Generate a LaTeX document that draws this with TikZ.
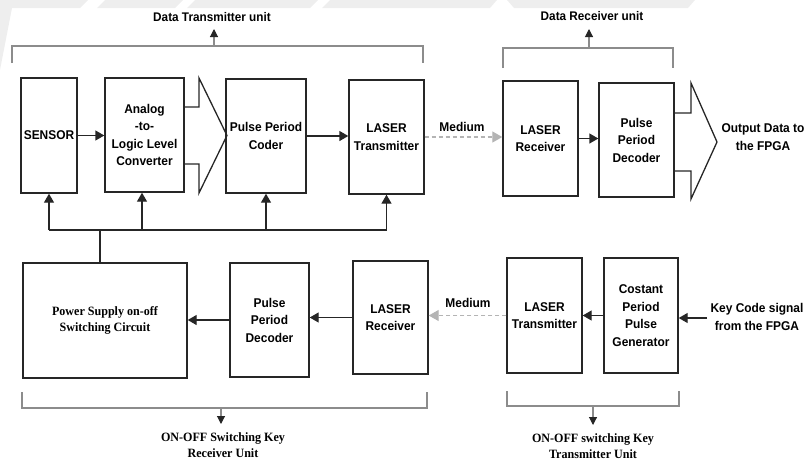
\documentclass[tikz,border=0pt]{standalone}
\usepackage{fontspec}
\setmainfont{Liberation Serif}
\setsansfont{Liberation Sans}
\newfontfamily\tallsans[FakeStretch=0.94]{Liberation Sans}
\newfontfamily\tallserif[FakeStretch=0.95]{Liberation Serif}
\usetikzlibrary{arrows.meta}

\definecolor{ink}{HTML}{262626}
\definecolor{bracketgray}{HTML}{8C8C8C}
\definecolor{mediumgray}{HTML}{B4B4B4}
\definecolor{wmark}{HTML}{EEEEEE}

\newcommand\boxfont{\tallsans\bfseries\fontsize{12.7}{17.5}\selectfont}
\newcommand\unitfont{\tallsans\bfseries\fontsize{12.5}{15}\selectfont}
\newcommand\serifbold{\tallserif\bfseries\fontsize{12.7}{16.5}\selectfont}

\tikzset{
  blk/.style 2 args={draw=ink, line width=1.4pt, minimum width=#1pt,
    minimum height=#2pt, inner sep=0pt, align=center, font=\boxfont},
  lbl/.style={inner sep=0pt, align=center, font=\boxfont},
  arr/.style={draw=ink, line width=1.4pt, -{Triangle[length=9pt,width=10pt]}},
  bus/.style={draw=ink, line width=1.4pt},
  hollow/.style={draw=ink, line width=1.3pt, line join=miter},
  bracket/.style={draw=bracketgray, line width=1.1pt},
  unitarr/.style={draw=bracketgray, line width=1.1pt,
    -{Triangle[length=8pt,width=8pt,color=ink]}},
  medarr/.style={draw=mediumgray, line width=1.3pt, dash pattern=on 4pt off 3pt,
    -{Triangle[length=10pt,width=11pt,color=mediumgray]}}
}

\begin{document}
\begin{tikzpicture}[x=1pt,y=-1pt]
\useasboundingbox (0,0) rectangle (808,464);

% faint background band along the top edge
\fill[wmark] (0,0) -- (88,0) -- (80,8) -- (0,8) -- cycle;
\fill[wmark] (105,0) -- (183,0) -- (175,8) -- (97,8) -- cycle;
\fill[wmark] (195,0) -- (318,0) -- (310,8) -- (187,8) -- cycle;
\fill[wmark] (330,0) -- (497,0) -- (490,8) -- (322,8) -- cycle;
\fill[wmark] (507,0) -- (695,0) -- (688,8) -- (514,8) -- cycle;
\fill[wmark] (0,8) -- (12,8) -- (0,70) -- cycle;

% ---- data transmitter unit ----
\node[blk={56}{115}] (sensor) at (49,135.5) {SENSOR};
\node[blk={79}{114}] (conv) at (144.5,135) {Analog\\-to-\\Logic Level\\Converter};
\node[blk={80}{114}] (coder) at (266,136) {Pulse Period\\Coder};
\node[blk={75}{114}] (ltx) at (386.5,137) {LASER\\Transmitter};

% ---- data receiver unit ----
\node[blk={75}{115}] (lrx) at (540.5,138.5) {LASER\\Receiver};
\node[blk={75}{114}] (tdec) at (636.5,140) {Pulse\\Period\\Decoder};

% ---- on-off switching key receiver unit ----
\node[blk={164}{115}, font=\serifbold] (ps) at (105,320.5) {Power Supply on-off\\Switching Circuit};
\node[blk={79}{114}] (bdec) at (269.5,320) {Pulse\\Period\\Decoder};
\node[blk={75}{113}] (blrx) at (390.5,317.5) {LASER\\Receiver};

% ---- on-off switching key transmitter unit ----
\node[blk={75}{115}] (btx) at (544.5,315.5) {LASER\\Transmitter};
\node[blk={74}{115}] (gen) at (641,315.5) {Costant\\Period\\Pulse\\Generator};

% free labels
\node[lbl] (med1) at (462,127) {Medium};
\node[lbl] (med2) at (468,303) {Medium};
\node[lbl] (outdata) at (763,137) {Output Data to\\the FPGA};
\node[lbl] (keycode) at (757,317) {Key Code signal\\from the FPGA};
\node[inner sep=0pt, font=\unitfont] (dtu) at (212,17) {Data Transmitter unit};
\node[inner sep=0pt, font=\unitfont] (dru) at (592,16) {Data Receiver unit};
\node[inner sep=0pt, align=center, font=\serifbold] (kru) at (223,445) {ON-OFF Switching Key\\Receiver Unit};
\node[inner sep=0pt, align=center, font=\serifbold] (ktu) at (593,446) {ON-OFF switching Key\\Transmitter Unit};

% signal path, transmitter side
\draw[arr] (sensor.east) -- (conv.west|-sensor.east);
\draw[arr] (coder.east) -- (ltx.west|-coder.east);
\draw[hollow] (conv.east|-0,107) -- (199,107) -- (199,78) -- (227,135.5)
  -- (199,193) -- (199,164) -- (conv.east|-0,164);

% optical link and receiver side
\draw[medarr] (ltx.east) -- (lrx.west|-ltx.east);
\draw[arr] (lrx.east) -- (tdec.west|-lrx.east);
\draw[hollow] (tdec.east|-0,113) -- (691,113) -- (691,83) -- (717,142)
  -- (691,199) -- (691,171) -- (tdec.east|-0,171);

% power distribution bus
\coordinate (busL) at (49,230);
\coordinate (tap) at (100,230);
\coordinate (convfeed) at (142,230);
\draw[bus] (sensor.south|-busL) -- (ltx.south|-busL);
\draw[arr] (sensor.south|-busL) -- (sensor.south);
\draw[arr] (convfeed) -- (convfeed|-conv.south);
\draw[arr] (coder.south|-busL) -- (coder.south);
\draw[arr] (ltx.south|-busL) -- (ltx.south);
\draw[bus] (tap) -- (tap|-ps.north);

% key path
\coordinate (keyin) at (707,318);
\draw[arr] (keyin) -- (gen.east|-keyin);
\draw[arr] (gen.west) -- (btx.east|-gen.west);
\draw[medarr] (btx.west) -- (blrx.east|-btx.west);
\draw[arr] (blrx.west) -- (bdec.east|-blrx.west);
\draw[arr] (bdec.west) -- (ps.east|-bdec.west);

% unit brackets
\draw[bracket] (12,63) -- (12,46) -- (423,46) -- (423,63);
\draw[unitarr] (214,46) -- (214,29);
\draw[bracket] (503,68) -- (503,48) -- (673,48) -- (673,68);
\draw[unitarr] (589,48) -- (589,29);
\draw[bracket] (22,392) -- (22,408) -- (427,408) -- (427,392);
\draw[unitarr] (221,408) -- (221,424);
\draw[bracket] (507,391) -- (507,406) -- (679,406) -- (679,391);
\draw[unitarr] (593,406) -- (593,425);
\end{tikzpicture}
\end{document}
